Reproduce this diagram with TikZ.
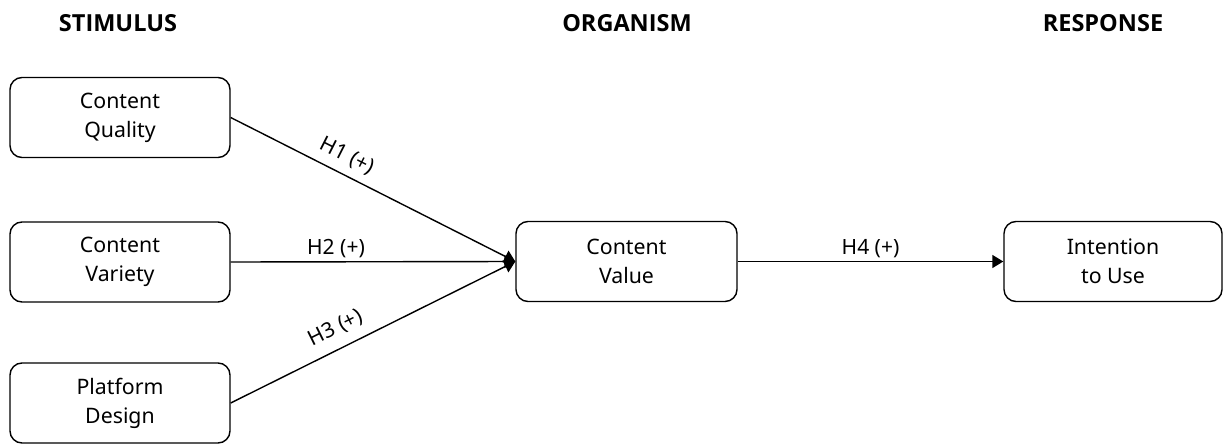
\documentclass[tikz,border=0pt]{standalone}
\usepackage{fontspec}
\setmainfont{Noto Sans}
\newfontfamily\headfont{Open Sans}
\usetikzlibrary{arrows.meta}
\begin{document}
\begin{tikzpicture}[x=1pt,y=-1pt,
  box/.style={draw, line width=1.4pt, rounded corners=12pt, minimum width=220pt, minimum height=80pt, align=center, font=\fontsize{21.3}{29}\selectfont, inner sep=0pt},
  head/.style={font=\fontsize{23.5}{28}\headfont\bfseries},
  conn/.style={line width=1.4pt, -{Triangle[length=11pt,width=13pt]}},
  lbl/.style={font=\fontsize{21}{24}\selectfont, inner sep=3pt}]
\useasboundingbox (0,0) rectangle (1223,444);
\node[head] (hs) at (118,23) {STIMULUS};
\node[head] (ho) at (627,23) {ORGANISM};
\node[head] (hr) at (1103,23) {RESPONSE};
\node[box] (cq) at (120,117.5) {Content\\Quality};
\node[box] (cv) at (120,262) {Content\\Variety};
\node[box] (pd) at (120,403) {Platform\\Design};
\node[box, minimum width=221pt] (val) at (626.5,261.5) {Content\\Value};
\node[box, minimum width=218pt] (itu) at (1113,261.5) {Intention\\to Use};
\draw[conn] (cq.east) -- node[lbl, pos=0.38, above=5pt, sloped] (l1) {H1 (+)} (val.west);
\draw[conn] (cv.east) -- node[lbl, pos=0.37, above] (l2) {H2 (+)} (val.west);
\draw[conn] (pd.east) -- node[lbl, pos=0.40, above=7pt, sloped] (l3) {H3 (+)} (val.west);
\draw[conn] (val.east) -- node[lbl, pos=0.5, above] (l4) {H4 (+)} (itu.west);
\end{tikzpicture}
\end{document}
